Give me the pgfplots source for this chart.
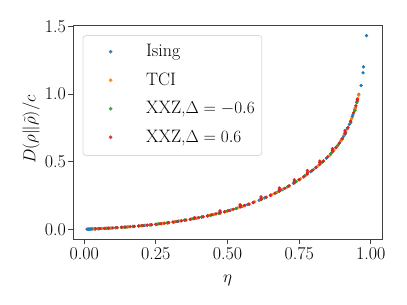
\documentclass[border=0pt]{standalone}
\usepackage{pgfplots}
\pgfplotsset{compat=1.18}
\definecolor{tabblue}{RGB}{31,119,180}
\definecolor{taborange}{RGB}{255,127,14}
\definecolor{tabgreen}{RGB}{44,160,44}
\definecolor{tabred}{RGB}{214,39,40}
\newcommand{\bigfont}{\fontsize{18bp}{21bp}\selectfont}
\begin{document}
\begin{tikzpicture}
\begin{axis}[
  scale only axis, width=309bp, height=214bp,
  xmin=-0.039, xmax=1.039, ymin=-0.072, ymax=1.512,
  xtick={0,0.25,0.5,0.75,1}, xticklabels={0.00,0.25,0.50,0.75,1.00},
  ytick={0,0.5,1,1.5}, yticklabels={0.0,0.5,1.0,1.5},
  tick align=outside, tick pos=left, major tick length=5bp,
  axis line style={black!75, line width=0.8bp},
  every tick/.style={black!75, line width=0.8bp},
  font=\bigfont,
  tick label style={font=\bigfont},
  xticklabel style={inner sep=0bp, yshift=-3bp},
  yticklabel style={inner sep=0bp, xshift=-2bp},
  xlabel={$\eta$}, ylabel={$D(\rho\|\tilde{\rho})/c$},
  xlabel style={at={(axis description cs:0.5,-0.201)}, anchor=base, inner sep=0bp},
  ylabel style={at={(axis description cs:-0.136,0.512)}, anchor=center, inner sep=0bp, rotate=0},
  legend cell align=left,
  legend style={at={(axis description cs:0.031,0.953)}, anchor=north west,
    draw=black!18, line width=0.8bp, rounded corners=3bp, fill=white, fill opacity=0.8, draw opacity=0.8, text opacity=1,
    inner xsep=7bp, inner ysep=9bp, row sep=12bp, font=\bigfont,
    nodes={inner sep=0bp, text height=12.5bp, text depth=4bp}},
  legend image code/.code={\path (0bp,0bp) (55.3bp,0bp); \draw[#1,only marks] plot coordinates {(20.3bp,1bp)};},
  every axis plot/.append style={only marks, mark=*, mark size=1.45bp},
]
\addplot[tabblue, mark options={draw=tabblue, fill=tabblue}] coordinates {
(0.010,0.0008)(0.013,0.0010)(0.016,0.0013)(0.019,0.0016)(0.022,0.0018)(0.026,0.0022)(0.030,0.0025)(0.035,0.0030)(0.040,0.0035)(0.05,0.0045)(0.06,0.0055)(0.075,0.0071)(0.09,0.0088)(0.11,0.0113)(0.13,0.0142)(0.15,0.0172)(0.17,0.0205)(0.19,0.0242)(0.21,0.0281)(0.23,0.0323)(0.25,0.0368)(0.27,0.0420)(0.29,0.0475)(0.31,0.0535)(0.33,0.0598)(0.35,0.0667)(0.37,0.0740)(0.39,0.0818)(0.41,0.0902)(0.43,0.0990)(0.45,0.1086)(0.47,0.1187)(0.49,0.1295)(0.51,0.1410)(0.53,0.1535)(0.55,0.1686)(0.57,0.1830)(0.59,0.1980)(0.61,0.2146)(0.63,0.2320)(0.65,0.2510)(0.67,0.2708)(0.69,0.2920)(0.71,0.3150)(0.73,0.3400)(0.75,0.3670)(0.77,0.3960)(0.79,0.4265)(0.81,0.4590)(0.83,0.4955)(0.845,0.5255)(0.86,0.558)(0.87,0.583)(0.88,0.6085)(0.89,0.637)(0.895,0.652)(0.90,0.668)(0.905,0.688)(0.912,0.716)(0.918,0.744)(0.925,0.776)(0.929,0.796)(0.935,0.831)(0.9375,0.846)(0.944,0.884)(0.946,0.899)(0.951,0.937)(0.958,0.998)(0.966,1.064)(0.973,1.158)(0.9745,1.202)(0.985,1.433)
};
\addlegendentry{Ising}
\addplot[taborange, mark options={draw=taborange, fill=taborange}] coordinates {
(0.035,0.0030)(0.048,0.0043)(0.062,0.0057)(0.078,0.0075)(0.095,0.0094)(0.115,0.0120)(0.135,0.0150)(0.155,0.0180)(0.175,0.0214)(0.195,0.0252)(0.215,0.0292)(0.235,0.0334)(0.255,0.0381)(0.275,0.0434)(0.295,0.0490)(0.315,0.0551)(0.335,0.0615)(0.355,0.0685)(0.375,0.0760)(0.395,0.0839)(0.415,0.0925)(0.435,0.1015)(0.455,0.1112)(0.475,0.1215)(0.495,0.1325)(0.515,0.1445)(0.535,0.1580)(0.555,0.1725)(0.575,0.1866)(0.595,0.2030)(0.615,0.2190)(0.635,0.2370)(0.655,0.2560)(0.675,0.2760)(0.695,0.2980)(0.715,0.3210)(0.735,0.3470)(0.755,0.3740)(0.775,0.4040)(0.795,0.4350)(0.815,0.4680)(0.835,0.5060)(0.857,0.5480)(0.870,0.5850)(0.883,0.6150)(0.896,0.6580)(0.908,0.7000)(0.920,0.7520)(0.933,0.8180)(0.945,0.8950)(0.954,0.9680)(0.958,0.9930)
};
\addlegendentry{TCI}
\addplot[tabgreen, mark options={draw=tabgreen, fill=tabgreen}] coordinates {
(0.05,0.0045)(0.08,0.0077)(0.11,0.0115)(0.14,0.0158)(0.17,0.0207)(0.20,0.0263)(0.23,0.0325)(0.26,0.0396)(0.29,0.0478)(0.32,0.0569)(0.35,0.0670)(0.38,0.0781)(0.41,0.0905)(0.44,0.1040)(0.47,0.1190)(0.50,0.1355)(0.53,0.1540)(0.56,0.1760)(0.59,0.1985)(0.62,0.2235)(0.65,0.2515)(0.68,0.2815)(0.71,0.3155)(0.74,0.3535)(0.77,0.3965)(0.80,0.4425)(0.83,0.4960)(0.86,0.5590)(0.885,0.6220)(0.91,0.7050)(0.93,0.7900)(0.945,0.8800)(0.952,0.9450)
};
\addlegendentry{XXZ,$\Delta=-0.6$}
\addplot[tabred, mark options={draw=tabred, fill=tabred}] coordinates {
(0.040,0.0036)(0.055,0.0050)(0.070,0.0066)(0.085,0.0083)(0.100,0.0101)(0.115,0.0121)(0.130,0.0143)(0.145,0.0165)(0.160,0.0190)(0.175,0.0216)(0.190,0.0243)(0.205,0.0272)(0.220,0.0303)(0.235,0.0335)(0.250,0.0370)(0.265,0.0408)(0.280,0.0448)(0.295,0.0491)(0.310,0.0536)(0.325,0.0583)(0.340,0.0634)(0.355,0.0686)(0.370,0.0742)(0.385,0.0800)(0.385,0.0860)(0.400,0.0862)(0.415,0.0926)(0.430,0.0993)(0.445,0.1062)(0.460,0.1140)(0.474,0.1205)(0.474,0.1280)(0.474,0.1360)(0.490,0.1300)(0.505,0.1385)(0.520,0.1482)(0.544,0.1640)(0.544,0.1730)(0.544,0.1820)(0.560,0.1760)(0.575,0.1865)(0.590,0.1985)(0.617,0.2205)(0.617,0.2300)(0.617,0.2400)(0.635,0.2375)(0.650,0.2515)(0.665,0.2660)(0.681,0.2825)(0.681,0.2930)(0.681,0.3050)(0.700,0.3035)(0.715,0.3215)(0.733,0.3440)(0.733,0.3540)(0.733,0.3660)(0.750,0.3670)(0.765,0.3880)(0.779,0.4095)(0.779,0.4220)(0.779,0.4350)(0.795,0.4345)(0.808,0.4560)(0.822,0.4800)(0.822,0.4930)(0.822,0.5050)(0.835,0.5050)(0.850,0.5360)(0.866,0.5730)(0.866,0.5850)(0.866,0.5970)(0.878,0.6030)(0.890,0.6370)(0.900,0.6700)(0.910,0.7080)(0.910,0.7190)(0.910,0.7310)(0.920,0.7530)(0.930,0.8010)(0.940,0.8620)(0.948,0.9140)(0.953,0.9550)(0.953,0.9620)
};
\addlegendentry{XXZ,$\Delta=0.6$}
\end{axis}
\path (current axis.south west) ++(-73bp,-66bp) rectangle ++(407bp,305bp);
\end{tikzpicture}
\end{document}
